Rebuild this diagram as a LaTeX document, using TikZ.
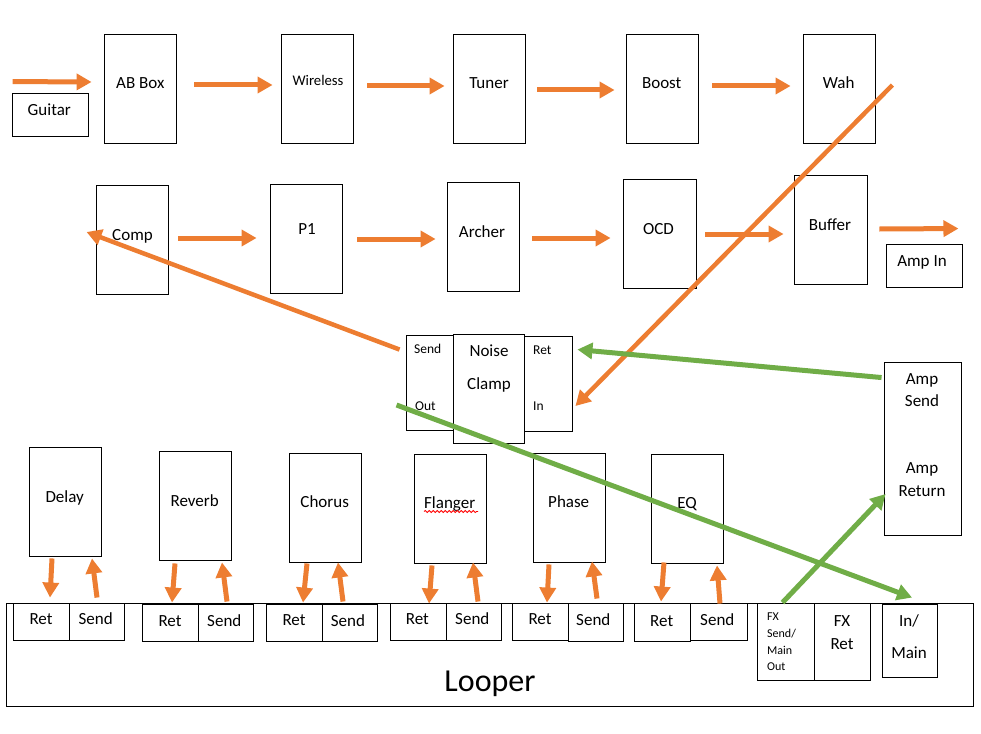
\documentclass[tikz,border=0pt]{standalone}
\usepackage{fontspec}
\setmainfont{Carlito}
\usetikzlibrary{arrows.meta,calc,fit,decorations.pathmorphing}
\definecolor{orng}{HTML}{ED7D31}
\definecolor{grn}{HTML}{70AD47}
\tikzset{
  box/.style={draw=black, line width=0.9pt, inner sep=0pt},
  t17/.style={anchor=base, inner sep=0pt, font=\fontsize{17}{20}\selectfont},
  t15/.style={anchor=base, inner sep=0pt, font=\fontsize{14.7}{18}\selectfont},
  t13/.style={anchor=base west, inner sep=0pt, font=\fontsize{13.5}{16}\selectfont},
  t12/.style={anchor=base west, inner sep=0pt, font=\fontsize{12}{15}\selectfont},
  tbig/.style={anchor=base, inner sep=0pt, font=\fontsize{32}{38}\selectfont},
  oarr/.style={draw=orng, line width=5pt, -{Triangle[length=15pt,width=16pt]}},
  odiag/.style={draw=orng, line width=4.5pt, -{Triangle[length=15pt,width=16pt]}},
  garr/.style={draw=grn, line width=5pt, -{Triangle[length=15pt,width=16pt]}},
}
\begin{document}
\begin{tikzpicture}[x=1pt,y=-1pt]
\useasboundingbox (0,0) rectangle (981,733);

% ---------- top row ----------
\node[box, fit={(12,93)(88,136)}] (guitar) {};
\node[box, fit={(104.3,34.3)(176.3,143.3)}] (ab) {};
\node[box, fit={(281.3,34.3)(353.3,143.3)}] (wl) {};
\node[box, fit={(453.3,34.3)(525.7,143.3)}] (tu) {};
\node[box, fit={(626.7,34.3)(698.3,143.3)}] (bo) {};
\node[box, fit={(803.3,34.3)(875.3,143.3)}] (wa) {};
\node[t17] (guitar-t) at (49.3,115.5) {Guitar};
\node[t17] (ab-t) at (140.3,89) {AB Box};
\node[t15] (wl-t) at (318,86) {Wireless};
\node[t17] (tu-t) at (489,89) {Tuner};
\node[t17] (bo-t) at (661.7,89) {Boost};
\node[t17] (wa-t) at (838.7,89) {Wah};

% ---------- middle row ----------
\node[box, fit={(96,185)(168,294)}] (comp) {};
\node[box, fit={(270,184)(342,293)}] (p1) {};
\node[box, fit={(447,182)(519,291)}] (archer) {};
\node[box, fit={(623,179)(696,288)}] (ocd) {};
\node[box, fit={(794,175)(867,284)}] (buffer) {};
\node[box, fit={(886,244)(962,287)}] (ampin) {};
\node[t17] (comp-t) at (132.5,240) {Comp};
\node[t17] (p1-t) at (307,234) {P1};
\node[t17] (archer-t) at (482,237) {Archer};
\node[t17] (ocd-t) at (658.5,234) {OCD};
\node[t17] (buffer-t) at (830,230) {Buffer};
\node[t17] (ampin-t) at (922,266) {Amp In};

% ---------- noise clamp ----------
\node[box, fit={(406,335)(453,430)}] (so) {};
\node[box, fit={(453,334)(524,443)}] (nc) {};
\node[box, fit={(524,336)(572,431)}] (ri) {};
\node[t13] (so-s) at (414,353.3) {Send};
\node[t13] (so-o) at (415,410) {Out};
\node[t17] (nc-n) at (489,356) {Noise};
\node[t17] (nc-c) at (489,389) {Clamp};
\node[t13] (ri-r) at (533,354) {Ret};
\node[t13] (ri-i) at (533,410) {In};

% ---------- amp send/return ----------
\node[box, fit={(884,362)(961,535)}] (ampsr) {};
\node[t17] (as-1) at (922,384.3) {Amp};
\node[t17] (as-2) at (922,406.7) {Send};
\node[t17] (ar-1) at (922,473.3) {Amp};
\node[t17] (ar-2) at (922,496) {Return};

% ---------- effects ----------
\node[box, fit={(29.3,447.3)(101.3,556.3)}] (delay) {};
\node[box, fit={(159.3,451.7)(231.3,560.3)}] (reverb) {};
\node[box, fit={(289.3,453.7)(361.3,562.3)}] (chorus) {};
\node[box, fit={(414.3,454.7)(486.3,563.3)}] (flanger) {};
\node[box, fit={(533.3,453.7)(605.3,562.3)}] (phase) {};
\node[box, fit={(651.3,454.7)(723.3,563.3)}] (eq) {};
\node[t17] (delay-t) at (64.7,502.3) {Delay};
\node[t17] (reverb-t) at (194.7,506) {Reverb};
\node[t17] (chorus-t) at (324.7,507.3) {Chorus};
\node[t17] (flanger-t) at (449.7,508.3) {Flanger};
\node[t17] (phase-t) at (568.7,507.3) {Phase};
\node[t17] (eq-t) at (687,508.3) {EQ};
\draw[red, line width=0.8pt, decorate, decoration={snake, amplitude=1.1pt, segment length=4pt}] (424,511.5) -- (478,511.5);

% ---------- looper ----------
\node[box, fit={(6,603)(973,706)}] (looper) {};
\node[tbig] (looper-t) at (490,691.7) {Looper};
\node[box, fit={(13,603)(69,640)}] (dret) {};
\node[box, fit={(69,603)(124,640)}] (dsend) {};
\node[box, fit={(142,604)(198,641)}] (rret) {};
\node[box, fit={(198,604)(253,641)}] (rsend) {};
\node[box, fit={(266,604)(322,641)}] (cret) {};
\node[box, fit={(322,604)(377,641)}] (csend) {};
\node[box, fit={(390,603)(446,640)}] (fret) {};
\node[box, fit={(446,603)(501,640)}] (fsend) {};
\node[box, fit={(512,603)(568,640)}] (pret) {};
\node[box, fit={(568,603)(623,641)}] (psend) {};
\node[box, fit={(634,603)(690,641)}] (eret) {};
\node[box, fit={(690,603)(747,640)}] (esend) {};
\node[box, fit={(757,603)(814,680)}] (fxs) {};
\node[box, fit={(814,603)(870,680)}] (fxr) {};
\node[box, fit={(882,604)(937,677)}] (inmain) {};
\node[t17] (dret-t) at (41,624.3) {Ret};
\node[t17] (dsend-t) at (95.7,624.3) {Send};
\node[t17] (rret-t) at (170,626.7) {Ret};
\node[t17] (rsend-t) at (224.3,626.7) {Send};
\node[t17] (cret-t) at (294,625.7) {Ret};
\node[t17] (csend-t) at (348,626.7) {Send};
\node[t17] (fret-t) at (417.3,624.3) {Ret};
\node[t17] (fsend-t) at (472.3,624.3) {Send};
\node[t17] (pret-t) at (540,624.3) {Ret};
\node[t17] (psend-t) at (593.3,625.3) {Send};
\node[t17] (eret-t) at (661.7,626.7) {Ret};
\node[t17] (esend-t) at (717.3,625.3) {Send};
\node[t12] (fxs-1) at (767,620.7) {FX};
\node[t12] (fxs-2) at (767,637.7) {Send/};
\node[t12] (fxs-3) at (767,654.3) {Main};
\node[t12] (fxs-4) at (767,670.7) {Out};
\node[t17] (fxr-1) at (842,626.7) {FX};
\node[t17] (fxr-2) at (842,649) {Ret};
\node[t17] (in-1) at (909,626.7) {In/};
\node[t17] (in-2) at (909,658.3) {Main};

% ---------- orange signal chain ----------
\draw[oarr] ($(guitar.north west)+(1,-11)$) -- ($(ab.west)+(-12.3,-6.8)$);
\draw[oarr] ($(ab.east)+(17.7,-3.8)$) -- ($(wl.west)+(-8.3,-3.8)$);
\draw[oarr] ($(wl.east)+(13.7,-2.8)$) -- ($(tu.west)+(-8.3,-2.8)$);
\draw[oarr] ($(tu.east)+(11.3,1.2)$) -- ($(bo.west)+(-11.7,1.2)$);
\draw[oarr] ($(bo.east)+(13.7,-2.8)$) -- ($(wa.west)+(-12.3,-2.8)$);
\draw[oarr] ($(comp.east)+(10,-1.5)$) -- ($(p1.west)+(-13,-0.5)$);
\draw[oarr] ($(p1.east)+(15,0.5)$) -- ($(archer.west)+(-11,2.5)$);
\draw[oarr] ($(archer.east)+(13,1.5)$) -- ($(ocd.west)+(-12,4.5)$);
\draw[oarr] ($(ocd.east)+(9,0.5)$) -- ($(buffer.west)+(-10,4.5)$);
\draw[oarr] ($(buffer.east)+(12,-0.5)$) -- ($(ampin.north east)+(-4,-15)$);

% ---------- effect loops ----------
\draw[oarr] ($(delay.south)+(-13.3,1.7)$) -- ($(dret.north)+(9,-5)$);
\draw[oarr] ($(dsend.north)+(0.5,-5)$) -- ($(delay.south)+(26.7,1.7)$);
\draw[oarr] ($(reverb.south)+(-20.3,2.7)$) -- ($(rret.north)+(2,-1)$);
\draw[oarr] ($(rsend.north)+(1.5,-2)$) -- ($(reverb.south)+(26.7,1.7)$);
\draw[oarr] ($(chorus.south)+(-18.3,0.7)$) -- ($(cret.north)+(9,-1)$);
\draw[oarr] ($(csend.north)+(-6.5,-2)$) -- ($(chorus.south)+(12.7,-0.3)$);
\draw[oarr] ($(flanger.south)+(-18.3,1.7)$) -- ($(fret.north)+(11,1)$);
\draw[oarr] ($(fsend.north)+(4.5,-1)$) -- ($(flanger.south)+(22.7,-1.3)$);
\draw[oarr] ($(phase.south)+(-20.3,1.7)$) -- ($(pret.north)+(7,0)$);
\draw[oarr] ($(psend.north)+(1.5,-4)$) -- ($(phase.south)+(22.7,-1.3)$);
\draw[oarr] ($(eq.south)+(-23.3,-1.3)$) -- ($(eret.north)+(-1,-1)$);
\draw[oarr] ($(esend.north)+(1.5,1)$) -- ($(eq.south)+(29.7,1.7)$);

% ---------- diagonals ----------
\draw[odiag] ($(so.north west)+(-6,15)$) -- ($(comp.west)+(-9,-7.5)$);
\draw[odiag] ($(wa.east)+(16.7,-3.8)$) -- ($(ri.east)+(3,22.5)$);
\draw[garr] ($(ampsr.north west)+(-2,16)$) -- ($(ri.north east)+(5,14)$);
\draw[garr] ($(so.west)+(-9,22.5)$) -- ($(inmain.north)+(2.5,-6)$);
\draw[garr] ($(fxs.north)+(-3,0)$) -- ($(ampsr.west)+(2,45.5)$);
\end{tikzpicture}
\end{document}
